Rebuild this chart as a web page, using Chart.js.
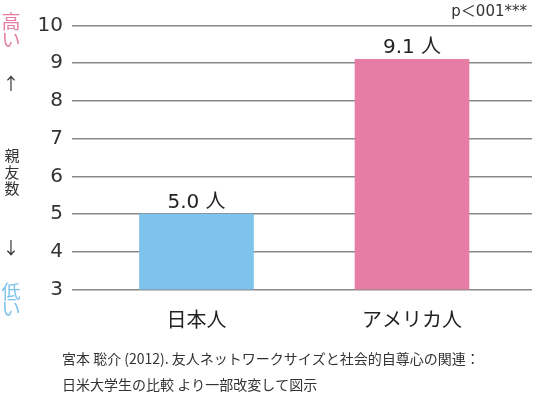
<!DOCTYPE html>
<html lang="ja">
<head>
    <meta charset="UTF-8">
    <title>親友数 日本人とアメリカ人</title>
    <style>
        body {
            margin: 0;
            background-color: #fff;
        }
        #friendChart {
            display: block;
        }
    </style>
</head>
<body>
    <canvas id="friendChart" width="534" height="393"></canvas>

    <script src="https://cdn.jsdelivr.net/npm/chart.js"></script>
    <script>
        // data
        const categories = ['日本人', 'アメリカ人'];
        const friendCounts = [5.0, 9.1];
        const barColors = ['#7dc3eb', '#e57da5'];
        const yTicks = [3, 4, 5, 6, 7, 8, 9, 10];
        const pNote = 'p＜001***';
        const sourceLines = [
            '宮本 聡介 (2012). 友人ネットワークサイズと社会的自尊心の関連：',
            '日米大学生の比較 より一部改変して図示'
        ];

        const numFont = '"DejaVu Sans", "Noto Sans CJK JP", sans-serif';
        const jpFont = '"Noto Sans CJK JP", sans-serif';

        // value labels above bars + side captions + footnote
        const textPlugin = {
            id: 'textPlugin',
            afterDatasetsDraw(chart) {
                const ctx = chart.ctx;
                const meta = chart.getDatasetMeta(0);
                ctx.save();
                ctx.fillStyle = '#222';
                ctx.font = '20px ' + numFont;
                ctx.textAlign = 'center';
                ctx.textBaseline = 'alphabetic';
                meta.data.forEach(function (bar, i) {
                    ctx.fillText(friendCounts[i].toFixed(1) + ' 人', bar.x, bar.y - 6);
                });

                // p value
                ctx.font = '15px ' + numFont;
                ctx.textAlign = 'right';
                ctx.textBaseline = 'middle';
                ctx.fillStyle = '#333';
                ctx.fillText(pNote, 527, 12);

                // vertical axis caption
                ctx.textAlign = 'center';
                ctx.font = '19px ' + jpFont;
                ctx.fillStyle = '#e57da5';
                ctx.fillText('高', 11, 22);
                ctx.fillText('い', 11, 40);
                ctx.fillStyle = '#7dc3eb';
                ctx.fillText('低', 11, 292);
                ctx.fillText('い', 11, 309);
                ctx.fillStyle = '#333';
                ctx.font = '17px ' + jpFont;
                ctx.fillText('↑', 11, 84);
                ctx.fillText('↓', 11, 248);
                ctx.font = '15px ' + jpFont;
                ctx.fillText('親', 12, 155);
                ctx.fillText('友', 12, 172);
                ctx.fillText('数', 12, 188);

                // source
                ctx.textAlign = 'left';
                ctx.font = '14px ' + jpFont;
                ctx.fillText(sourceLines[0], 62, 359);
                ctx.fillText(sourceLines[1], 62, 385);
                ctx.restore();
            }
        };

        const ctx = document.getElementById('friendChart').getContext('2d');
        new Chart(ctx, {
            type: 'bar',
            data: {
                datasets: [{
                    data: friendCounts.map(function (v, i) { return { x: i, y: v }; }),
                    backgroundColor: barColors,
                    barThickness: 114,
                    borderWidth: 0
                }]
            },
            options: {
                responsive: false,
                animation: false,
                events: [],
                layout: {
                    padding: { top: 25.5, right: 2, bottom: 0, left: 0 }
                },
                plugins: {
                    legend: { display: false },
                    tooltip: { enabled: false }
                },
                scales: {
                    x: {
                        type: 'linear',
                        offset: false,
                        min: -0.5777,
                        max: 1.5569,
                        afterBuildTicks: function (scale) {
                            scale.ticks = categories.map(function (c, i) { return { value: i }; });
                        },
                        afterFit: function (scale) {
                            scale.height = 103.5;
                        },
                        grid: { display: false },
                        border: { display: false },
                        ticks: {
                            padding: 10,
                            color: '#222',
                            font: { family: jpFont, size: 20 },
                            callback: function (value) { return categories[value]; }
                        }
                    },
                    y: {
                        min: yTicks[0],
                        max: yTicks[yTicks.length - 1],
                        afterBuildTicks: function (scale) {
                            scale.ticks = yTicks.map(function (v) { return { value: v }; });
                        },
                        afterFit: function (scale) {
                            scale.width = 72;
                        },
                        grid: {
                            color: '#888',
                            lineWidth: 1.5,
                            drawTicks: false
                        },
                        border: { display: false },
                        ticks: {
                            padding: 9,
                            color: '#333',
                            font: { family: numFont, size: 20 }
                        }
                    }
                }
            },
            plugins: [textPlugin]
        });
    </script>
</body>
</html>
